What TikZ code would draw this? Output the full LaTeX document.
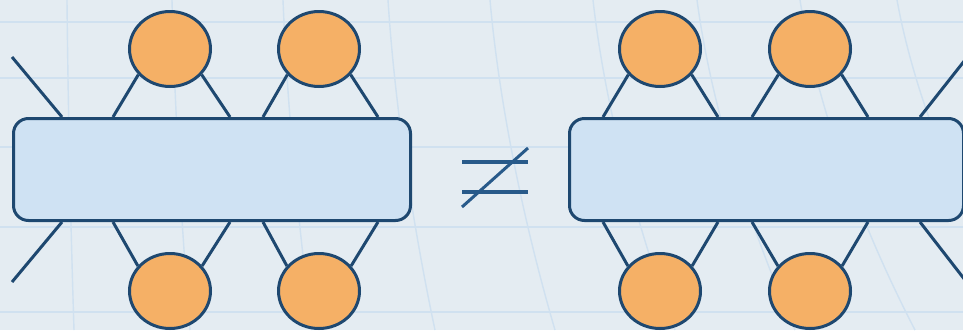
\documentclass[tikz,border=0pt]{standalone}
\usetikzlibrary{shapes.geometric}
\definecolor{bgc}{RGB}{228,236,242}
\definecolor{gridc}{RGB}{208,225,240}
\definecolor{navy}{RGB}{30,72,112}
\definecolor{boxfill}{RGB}{207,226,243}
\definecolor{orangefill}{RGB}{245,176,102}
\definecolor{signc}{RGB}{40,90,138}
\tikzset{
  gridline/.style={draw=gridc, line width=1.4pt},
  tensorbox/.style={draw=navy, fill=boxfill, line width=3pt, rounded corners=15pt, minimum height=102pt, inner sep=0pt},
  blob/.style={ellipse, draw=navy, fill=orangefill, line width=3pt, minimum width=81pt, minimum height=75pt, inner sep=0pt},
  leg/.style={draw=navy, line width=3pt},
  signline/.style={draw=signc, line width=3.5pt}
}
\begin{document}
\begin{tikzpicture}[x=1pt,y=-1pt]
\fill[bgc] (0,0) rectangle (963,330);
\useasboundingbox (0,0) rectangle (963,330);
% background grid
\foreach \yy in {22,78,147,227,312} \draw[gridline] (0,\yy) -- (963,\yy);
\foreach \xt/\xb in {67/74,172/190,283/312,388/435,490/555,593/675,697/795,800/915,897/1030}
  \draw[gridline] (\xt,0) .. controls (\xt+0.15*\xb-0.15*\xt,110) and (\xt+0.55*\xb-0.55*\xt,230) .. (\xb,330);

% ---------- left diagram ----------
\node[tensorbox, minimum width=397pt] (B1) at (212,169.5) {};
\node[blob] (a1) at (170,49) {};
\node[blob] (a2) at (319,49) {};
\node[blob] (a3) at (170,291) {};
\node[blob] (a4) at (319,291) {};
\coordinate (p1) at (113,117);
\coordinate (p2) at (230,117);
\coordinate (p3) at (263,117);
\coordinate (p4) at (378,117);
\coordinate (q1) at (113,222);
\coordinate (q2) at (230,222);
\coordinate (q3) at (263,222);
\coordinate (q4) at (378,222);
\coordinate (lt) at (12,57);
\coordinate (ltb) at (62,117);
\coordinate (lb) at (12,282);
\coordinate (lbb) at (62,222);
\draw[leg] (a1.219) -- (p1);
\draw[leg] (a1.321) -- (p2);
\draw[leg] (a2.219) -- (p3);
\draw[leg] (a2.321) -- (p4);
\draw[leg] (a3.142) -- (q1);
\draw[leg] (a3.38) -- (q2);
\draw[leg] (a4.142) -- (q3);
\draw[leg] (a4.38) -- (q4);
\draw[leg] (lt) -- (ltb);
\draw[leg] (lb) -- (lbb);

% ---------- not-equal sign ----------
\coordinate (s1) at (462,162);
\coordinate (s2) at (528,162);
\coordinate (s3) at (462,192);
\coordinate (s4) at (528,192);
\coordinate (s5) at (462,207);
\coordinate (s6) at (528,148);
\draw[signline] (s1) -- (s2);
\draw[signline] (s3) -- (s4);
\draw[signline, line width=3pt] (s5) -- (s6);

% ---------- right diagram ----------
\node[tensorbox, minimum width=394pt] (B2) at (766.5,169.5) {};
\node[blob] (b1) at (660,49) {};
\node[blob] (b2) at (810,49) {};
\node[blob] (b3) at (660,291) {};
\node[blob] (b4) at (810,291) {};
\coordinate (r1) at (603,117);
\coordinate (r2) at (718,117);
\coordinate (r3) at (752,117);
\coordinate (r4) at (868,117);
\coordinate (u1) at (603,222);
\coordinate (u2) at (718,222);
\coordinate (u3) at (752,222);
\coordinate (u4) at (868,222);
\coordinate (rt) at (965,60);
\coordinate (rtb) at (920,117);
\coordinate (rb) at (965,280);
\coordinate (rbb) at (920,222);
\draw[leg] (b1.219) -- (r1);
\draw[leg] (b1.321) -- (r2);
\draw[leg] (b2.219) -- (r3);
\draw[leg] (b2.321) -- (r4);
\draw[leg] (b3.142) -- (u1);
\draw[leg] (b3.38) -- (u2);
\draw[leg] (b4.142) -- (u3);
\draw[leg] (b4.38) -- (u4);
\draw[leg] (rtb) -- (rt);
\draw[leg] (rbb) -- (rb);
\end{tikzpicture}
\end{document}
